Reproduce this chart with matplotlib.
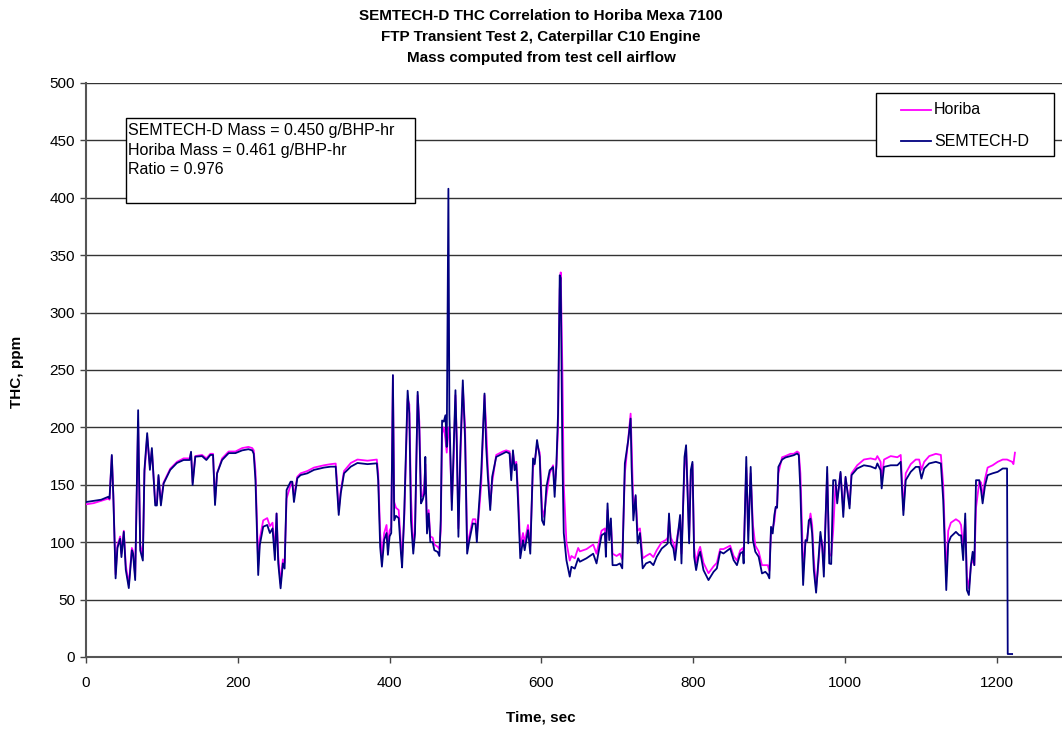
import matplotlib
matplotlib.use("Agg")
import matplotlib.pyplot as plt
from matplotlib.patches import Rectangle
from matplotlib.lines import Line2D

plt.rcParams['font.family'] = ['Liberation Sans', 'DejaVu Sans']

# ---------------- data ----------------
sem_t = [0, 10, 20, 29.5, 31, 34, 36, 39, 41.4, 45, 46.7, 49.8, 52.4, 56.4, 60.4, 62, 64.8, 68.7, 71.4, 74.9,
         77, 80.6, 84.2, 86.8, 91.2, 93.4, 95.5, 98.7, 102.2, 111, 119.8, 128.6, 136.5, 138.4, 140.5, 144,
         152.9, 158.6, 163.9, 167.4, 170, 172.7, 179.3, 188, 196.9, 205.8, 214, 219, 221, 223.3, 226.9, 229,
         233.5, 238.8, 242.3, 245.8, 248.9, 251.1, 253.3, 256.4, 259.4, 261.7, 264.3, 269.6, 271.8, 274,
         278.4, 282.8, 291.6, 300.4, 313.6, 322.5, 329, 330.4, 333, 335.7, 340, 348.9, 357.7, 370.9, 383.2,
         385, 387.6, 389.9, 392.9, 396, 397.8, 400, 402.2, 404.4, 406.1, 408.4, 412, 415, 416.5, 419.3,
         423.8, 426, 428.2, 431.2, 433.5, 437, 439.2, 441.4, 443.6, 445.8, 447.1, 449.3, 451.5, 453.7,
         456.8, 459, 463.4, 465.6, 467.4, 469.2, 471.4, 473.6, 475.3, 477.5, 478.8, 482, 484.1, 486.8,
         488.6, 490.7, 493.4, 496.5, 499.5, 502.2, 505.2, 509.7, 513.2, 515, 517.1, 520.7, 525.1, 527.3,
         529.5, 532.6, 535.2, 540.5, 549.3, 553.7, 558.1, 560.3, 562.6, 564.7, 567, 569.2, 572.2, 575.8,
         578, 582.4, 585.4, 589, 591.2, 594.3, 597.8, 600.9, 603.5, 606.6, 611, 615.4, 617.5, 619.8, 622,
         624.2, 625.5, 627.7, 629.5, 633, 637.4, 639.6, 644, 648.5, 650.7, 659.5, 668.3, 672.7, 679.3,
         683.7, 685, 687.2, 689.4, 691.6, 693.8, 699.1, 703.5, 706.6, 710, 714.5, 717.6, 718.9, 721.2,
         724.2, 726.8, 729.9, 733.5, 737.9, 743.1, 747.6, 752, 758.6, 764.3, 766.5, 768.2, 770.5, 774,
         776.1, 779.3, 782.8, 784.6, 788.6, 790.7, 792.5, 794.7, 796.9, 799.1, 801.3, 803.9, 807, 809.2,
         813.6, 820.2, 826.9, 831.2, 835.6, 840, 848.8, 853.3, 857.7, 862.1, 865.6, 866.5, 870, 872.6,
         875.8, 878.8, 881.9, 886.3, 890.7, 895.1, 898.2, 900.4, 902.6, 904.8, 907, 908.8, 910.6, 912.3,
         917.2, 921.6, 928.2, 932.6, 937, 939.2, 941.3, 943.6, 944.9, 948, 950.2, 952.4, 954.6, 956.8,
         959, 962, 964.7, 967.7, 970, 972.2, 976.6, 979.3, 981.9, 984.5, 987.6, 989.8, 994.2, 997.8,
         1000.8, 1006.1, 1008.7, 1016.2, 1025, 1033.8, 1040.4, 1042.7, 1047, 1048.4, 1051.5, 1060.3,
         1069.1, 1073.5, 1074.8, 1077, 1080.1, 1086.7, 1093.3, 1097.8, 1100.8, 1104.4, 1111, 1119.8,
         1126.4, 1129.5, 1131.7, 1133.5, 1136.1, 1139.6, 1146.2, 1150.7, 1153, 1155.8, 1158.5, 1160.7,
         1163.3, 1166, 1168.3, 1170.5, 1172.7, 1177.1, 1179.4, 1181.4, 1184.5, 1188, 1194.6, 1201.3,
         1207.9, 1213.6, 1214.5, 1220.3]
sem_v = [135, 136, 137, 139.6, 138, 176, 140, 68.5, 95, 103, 87, 109, 76, 60, 93, 90, 67, 215, 93, 84,
         163, 195, 163, 182, 132, 132, 158.5, 132, 151, 163, 169, 171.6, 171.6, 178.8, 149.8, 174.5,
         175, 171.6, 176, 176, 132.4, 160, 171.6, 177.6, 177.6, 180, 181, 180, 177, 154, 71.4, 97.6,
         113.5, 115, 108, 112, 84.5, 125, 81.6, 59.8, 81.6, 77, 145.5, 152.7, 152.7, 135,
         155.7, 158.5, 160, 163, 165, 165.8, 165.8, 151, 123.7, 142.6, 160, 165.8, 169, 168, 168.7,
         154, 96, 78.7, 102, 108, 89, 105, 108, 245.6, 119, 123, 121, 90, 78, 125,
         232, 212, 119, 90, 107.6, 231, 197.6, 133.8, 137, 142.5, 174.3, 107.6, 125, 100,
         100, 93, 91.5, 88, 119, 206, 205, 210.6, 183, 407.9, 212, 128, 174.3, 232.4,
         183, 104.7, 183, 241, 188.9, 90, 101.8, 116.3, 116, 100, 125, 160, 229.5, 183,
         157, 128, 157, 174.3, 177.3, 178.7, 177.3, 154, 180, 162.7, 168, 136.6, 86, 101.8,
         93, 110.5, 90, 173, 168, 189, 174.3, 119, 115, 148, 162.7, 165.5, 139.5, 168, 212,
         332.5, 330, 174, 108, 84.4, 70, 78.6, 77, 86, 83, 86, 90, 81.5, 106,
         108, 87.3, 133.8, 101.8, 120.7, 80, 80, 81.5, 77.2, 168.6, 189, 207.7, 165.6, 119,
         141, 99, 108, 77.2, 81.5, 83, 80, 87.3, 94.5, 97.6, 99, 125, 99, 94.5,
         84.4, 103.3, 123.7, 81.5, 174.3, 184.5, 145.3, 99, 162.7, 170, 87.3, 75.7, 87.3, 91.7,
         75.7, 67, 74.2, 77.2, 91.7, 90.2, 94.6, 84.4, 80, 90.2, 91.7, 81.5, 174.3, 99,
         165.6, 101.8, 91.7, 87.3, 72.8, 74.2, 72, 68.5, 113.4, 107.6, 123.6, 130.8, 130, 165.6,
         172, 173.8, 175, 175.8, 177.3, 175.8, 145.3, 90.2, 62.7, 101.8, 101, 119, 120.5, 107.6,
         75.7, 56, 81.5, 109, 96, 70, 165.6, 81.5, 81, 154, 154, 133.8, 161.3, 122,
         157, 129.4, 158.4, 164.2, 167, 166, 164.2, 168.6, 162.7, 146.8, 165.6, 167,
         167, 170, 151.2, 123.6, 154, 161.3, 165.6, 165.6, 155.4, 164.2, 168.6, 170,
         168.6, 136.6, 93, 58.3, 99, 104.8, 109, 106, 106, 84.4, 125, 58.3,
         54, 80, 91.7, 80, 154, 154, 145, 133.8, 149, 158.4, 160, 161.3,
         164.2, 164.2, 2.6, 2.6]

hor_t = sem_t[:-2] + [1220.3, 1222, 1224]
hor_v = [133, 134, 136, 138, 137, 175, 142, 72, 97, 105, 90, 110, 80, 63, 95, 92, 70, 205, 98, 88,
         160, 192, 166, 180, 135, 134, 157, 135, 152, 164, 170, 173, 173, 178, 152, 175,
         176, 173, 177, 177, 136, 160, 173, 179, 179, 182, 183, 182, 180, 162, 80, 103,
         119, 121, 114, 117, 92, 125, 88, 64, 85, 82, 138, 150, 152, 140,
         157, 160, 162, 165, 167, 168, 168.5, 156, 128, 145, 162, 169, 172, 171, 172,
         160, 108, 88, 108, 115, 97, 110, 113, 245, 135, 130, 128, 98, 86, 120,
         225, 220, 140, 96, 110, 228, 205, 140, 140, 150, 168, 112, 128, 105,
         104, 98, 96, 94, 110, 195, 200, 190, 178, 200, 195, 135, 165, 228,
         190, 112, 175, 235, 200, 98, 106, 120, 120, 106, 120, 150, 228, 200,
         165, 132, 152, 176, 179, 180, 179, 160, 178, 168, 170, 145, 96, 108,
         100, 115, 97, 165, 170, 185, 178, 130, 122, 140, 160, 167, 148, 165, 200,
         320, 335, 250, 150, 100, 84, 88, 86, 95, 92, 94, 98, 90, 110,
         112, 95, 128, 108, 118, 90, 88, 90, 85, 160, 190, 212, 185, 130,
         140, 110, 112, 86, 88, 90, 87, 93, 100, 102, 104, 120, 104, 99,
         92, 106, 118, 90, 165, 182, 150, 104, 158, 168, 95, 82, 92, 96,
         82, 73, 79, 82, 94, 94, 97, 88, 84, 93, 95, 88, 165, 110,
         160, 115, 97, 92, 80, 80, 80, 75, 110, 112, 118, 130, 132, 160,
         174, 175, 177, 177, 179, 178, 160, 110, 75, 100, 104, 115, 125, 115,
         85, 60, 78, 105, 100, 78, 160, 90, 88, 110, 150, 138, 160, 128,
         156, 133, 160, 167, 172, 173, 172, 175, 170, 155, 172, 175,
         174, 176, 160, 128, 160, 168, 172, 172, 163, 170, 175, 177,
         176, 150, 105, 70, 110, 117, 120, 118, 115, 95, 120, 70,
         60, 80, 85, 80, 130, 153, 152, 138, 155, 165, 167, 170,
         172, 172, 170, 168, 178]

title_lines = ["SEMTECH-D THC Correlation to Horiba Mexa 7100",
               "FTP Transient Test 2, Caterpillar C10 Engine",
               "Mass computed from test cell airflow"]
box_lines = ["SEMTECH-D Mass = 0.450 g/BHP-hr",
             "Horiba Mass = 0.461 g/BHP-hr",
             "Ratio = 0.976"]
x_ticks = [0, 200, 400, 600, 800, 1000, 1200]
y_ticks = [0, 50, 100, 150, 200, 250, 300, 350, 400, 450, 500]

# ---------------- figure ----------------
W, H = 1062, 730
fig = plt.figure(figsize=(W / 100, H / 100), dpi=100)
ax = fig.add_axes([86 / W, 1 - 657 / H, (W - 86) / W + 0.01, (657 - 83) / H])

ax.plot(hor_t, hor_v, color='#FF00FF', lw=1.3, label='Horiba', zorder=3)
ax.plot(sem_t, sem_v, color='#000080', lw=1.3, label='SEMTECH-D', zorder=4)

ax.set_xlim(0, 1300)
ax.set_ylim(0, 500)
ax.set_xticks(x_ticks)
ax.set_yticks(y_ticks)
ax.tick_params(axis='both', labelsize=11, direction='out', length=4, width=1, color='#444444', pad=4)
ax.tick_params(axis='x', pad=10)
ax.grid(axis='y', color='#333333', lw=1, zorder=1)
for s in ['top', 'right']:
    ax.spines[s].set_visible(False)
for s in ['left', 'bottom']:
    ax.spines[s].set_color('#555555')
    ax.spines[s].set_linewidth(1.5)

fig.text(541 / W, 1 - 718 / H, 'Time, sec', ha='center', va='center', fontsize=11, fontweight='bold')
fig.text(17 / W, 1 - 372 / H, 'THC, ppm', ha='center', va='center', rotation=90,
         fontsize=11, fontweight='bold')

for i, line in enumerate(title_lines):
    fig.text(541 / W, 1 - (16 + 21 * i) / H, line, ha='center', va='center',
             fontsize=11, fontweight='bold')

# annotation text box
fig.patches.append(Rectangle((126 / W, 1 - 203 / H), (415 - 126) / W, (203 - 118) / H,
                             transform=fig.transFigure, facecolor='white', edgecolor='black',
                             lw=1, zorder=5))
for i, line in enumerate(box_lines):
    fig.text(128 / W, 1 - (130 + 20 * i) / H, line, ha='left', va='center', fontsize=11.5, zorder=6)

# legend
fig.patches.append(Rectangle((876 / W, 1 - 156 / H), (1054 - 876) / W, (156 - 93) / H,
                             transform=fig.transFigure, facecolor='white', edgecolor='black',
                             lw=1, zorder=5))
for i, (name, col) in enumerate([('Horiba', '#FF00FF'), ('SEMTECH-D', '#000080')]):
    yy = 1 - (110 + 31 * i) / H
    fig.lines.append(Line2D([901 / W, 931 / W], [yy, yy], transform=fig.transFigure,
                            color=col, lw=1.3, zorder=6))
    fig.text(934 / W, yy, name, ha='left', va='center', fontsize=11.5, zorder=6)

fig.savefig('out.png', dpi=100)
